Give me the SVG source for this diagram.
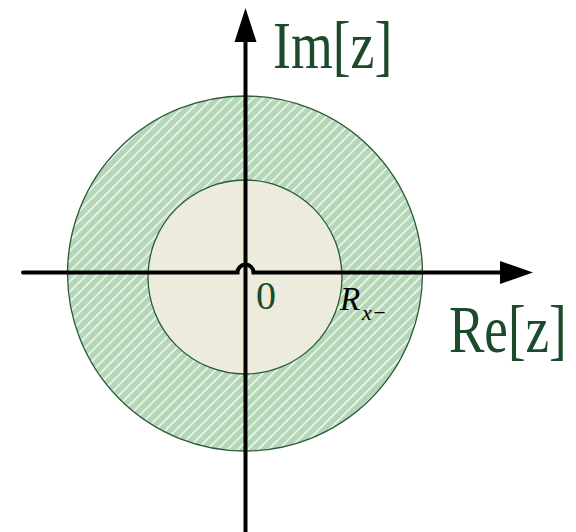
<svg xmlns="http://www.w3.org/2000/svg" width="576" height="532" viewBox="0 0 576 532">
  <defs>
    <pattern id="hatch" patternUnits="userSpaceOnUse" width="7.2" height="7.2" patternTransform="rotate(45)">
      <rect width="7.2" height="7.2" fill="#b5d7b8"/>
      <line x1="3.6" y1="0" x2="3.6" y2="7.2" stroke="#ffffff" stroke-width="1.8" stroke-opacity="0.7"/>
    </pattern>
    <style>
      .lbl { font-family: "Liberation Serif", "Times New Roman", serif; fill: #1b4b2b; }
      .ital { font-family: "Liberation Serif", "Times New Roman", serif; font-style: italic; fill: #000; }
      .axis { fill: none; stroke: #000; stroke-width: 4; stroke-linecap: round; }
      .circ { stroke: #2a5a38; stroke-width: 1.3; }
    </style>
  </defs>
  <rect width="576" height="532" fill="#ffffff"/>
  <g id="outer-region">
    <circle class="circ" cx="245" cy="273.5" r="177.5" fill="url(#hatch)"/>
  </g>
  <g id="inner-region">
    <circle class="circ" cx="245" cy="277" r="97" fill="#ecebdc"/>
  </g>
  <g id="axes">
    <path class="axis" d="M23,272.5 L237.5,272.5 A8,8 0 0 1 253.5,272.5 L502,272.5"/>
    <path class="axis" d="M245.5,532 L245.5,40" stroke-linecap="butt"/>
    <polygon points="533,272.5 500,261 500,284" fill="#000"/>
    <polygon points="245.5,8 234.5,42 256.5,42" fill="#000"/>
  </g>
  <g id="labels">
    <text class="lbl" transform="translate(273,68) scale(0.79,1)" font-size="68">Im[z]</text>
    <text class="lbl" transform="translate(449,352) scale(0.78,1)" font-size="68">Re[z]</text>
    <text class="lbl" x="256" y="309" font-size="40">0</text>
    <text class="ital" x="340" y="310" font-size="33">R<tspan x="362" y="320" font-size="22">x−</tspan></text>
  </g>
</svg>
